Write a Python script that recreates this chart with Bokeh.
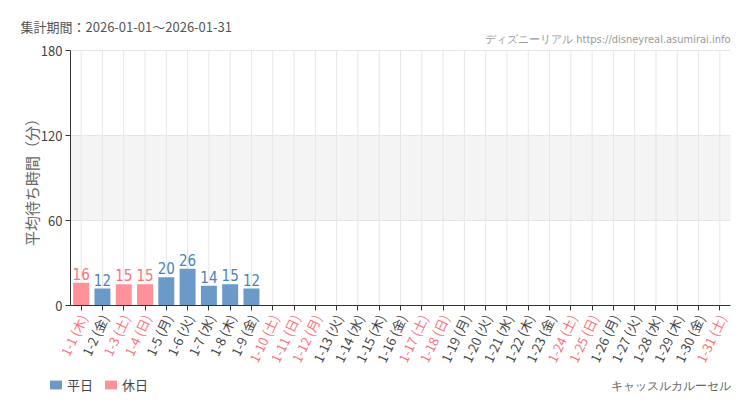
import math
from bokeh.plotting import figure
from bokeh.models import (ColumnDataSource, BoxAnnotation, Label, LabelSet, Legend, LegendItem,
                          FixedTicker, Range1d, LinearAxis)
from bokeh.core.properties import value
from bokeh.embed import file_html
from bokeh.resources import INLINE

# ---- data ----
days = [f"1-{d}" for d in range(1, 32)]
weekdays = ["木", "金", "土", "日", "月", "火", "水"]
dow = [weekdays[(d - 1) % 7] for d in range(1, 32)]
holiday_days = [1, 3, 4, 10, 11, 12, 17, 18, 24, 25, 31]
waits = [16, 12, 15, 15, 20, 26, 14, 15, 12]          # days 1..9 (no data after)
tick_labels = [f"{d} ({w})" for d, w in zip(days, dow)]
period_text = "集計期間：2026-01-01～2026-01-31"
site_text = "ディズニーリアル https://disneyreal.asumirai.info"
attraction = "キャッスルカルーセル"
y_title = "平均待ち時間（分）"
y_ticks = [0, 60, 120, 180]
y_max = 180

BLUE = "#6b9ac8"
PINK = "#ff9298"
BLUE_T = "#4d82b8"
PINK_T = "#f9737d"
JP = "Noto Sans CJK JP"
NARROW = "DejaVu Sans Condensed"

W, H = 742, 402
PL, PR, PT, PB = 70, 12, 50, 97           # plot-area margins inside the canvas
n = len(days)
px_x = (W - PL - PR) / n
px_y = (H - PT - PB) / y_max

p = figure(width=W, height=H, output_backend="svg", toolbar_location=None,
           x_range=Range1d(-0.5 - PL / px_x, n - 0.5 + PR / px_x),
           y_range=Range1d(-PB / px_y, y_max + PT / px_y),
           min_border=0, x_axis_location=None, y_axis_location=None)
p.outline_line_color = None
p.background_fill_color = "white"
p.border_fill_color = "white"
p.xgrid.visible = False
p.ygrid.visible = False

idx = list(range(n))
is_hol = [int(d.split("-")[1]) in holiday_days for d in days]

# band
p.add_layout(BoxAnnotation(left=-0.5, right=n - 0.5, bottom=60, top=120,
                           fill_color="#f4f4f4", fill_alpha=1.0, line_color=None, level="underlay"))
# grid lines
p.segment(x0=idx, x1=idx, y0=[0] * n, y1=[y_max] * n, line_color="#e6e6e6", line_width=1)
gy = [t for t in y_ticks if t > 0]
p.segment(x0=[-0.5] * len(gy), x1=[n - 0.5] * len(gy), y0=gy, y1=gy, line_color="#e6e6e6", line_width=1)

src_w = ColumnDataSource(dict(x=[i for i, h in zip(idx, is_hol) if i < len(waits) and not h],
                              y=[waits[i] for i, h in zip(idx, is_hol) if i < len(waits) and not h]))
src_w.data["t"] = [str(v) for v in src_w.data["y"]]
src_h = ColumnDataSource(dict(x=[i for i, h in zip(idx, is_hol) if i < len(waits) and h],
                              y=[waits[i] for i, h in zip(idx, is_hol) if i < len(waits) and h]))
src_h.data["t"] = [str(v) for v in src_h.data["y"]]
rw = p.vbar(x="x", top="y", width=0.75, source=src_w, fill_color=BLUE, line_color=None)
rh = p.vbar(x="x", top="y", width=0.75, source=src_h, fill_color=PINK, line_color=None)
p.text(x="x", y="y", text="t", source=src_w, text_align="center", text_baseline="bottom",
       y_offset=-3, text_color=BLUE_T, text_font=value(NARROW), text_font_size="15px")
p.text(x="x", y="y", text="t", source=src_h, text_align="center", text_baseline="bottom",
       y_offset=-3, text_color=PINK_T, text_font=value(NARROW), text_font_size="15px")

# axes (fixed inside the frame)
yax = LinearAxis(fixed_location=-0.5, bounds=(0, y_max), ticker=FixedTicker(ticks=y_ticks))
yax.axis_line_color = "#333333"
yax.major_tick_line_color = "#333333"
yax.major_tick_out = 5
yax.major_tick_in = 0
yax.minor_tick_line_color = None
yax.major_label_text_font = JP
yax.major_label_text_font_size = "13px"
yax.major_label_text_color = "#444444"
yax.major_label_standoff = 3
p.add_layout(yax, "left")

xax = LinearAxis(fixed_location=0, bounds=(-0.5, n - 0.5), ticker=FixedTicker(ticks=idx))
xax.axis_line_color = "#333333"
xax.major_tick_line_color = "#333333"
xax.major_tick_out = 5
xax.major_tick_in = 0
xax.minor_tick_line_color = None
xax.major_label_text_alpha = 0
xax.major_label_text_font_size = "1px"
p.add_layout(xax, "below")

# rotated x tick labels with per-label colours
cols = [PINK_T if h else "#444444" for h in is_hol]
lab_src = ColumnDataSource(dict(x=idx, t=tick_labels, c=cols))
lab_src.data["y"] = [0] * n
p.add_layout(LabelSet(x="x", y="y", text="t", source=lab_src, text_color="c",
                      angle=1.13, text_align="right", text_baseline="middle",
                      x_offset=2, y_offset=-10,
                      text_font=value(JP), text_font_size="13px"))

# texts
p.add_layout(Label(x=20, y=H - 26, x_units="screen", y_units="screen", text=period_text,
                   text_font=JP, text_font_size="13px", text_color="#555555",
                   text_baseline="middle"))
p.add_layout(Label(x=W - PR, y=H - 39, x_units="screen", y_units="screen", text=site_text,
                   text_font=NARROW, text_font_size="11px", text_color="#999999",
                   text_align="right", text_baseline="middle"))
p.add_layout(Label(x=31, y=H - 178, x_units="screen", y_units="screen", text=y_title,
                   angle=math.pi / 2,
                   text_font=JP, text_font_size="15px", text_color="#666666",
                   text_align="center", text_baseline="middle"))
p.add_layout(Label(x=W - PR, y=17, x_units="screen", y_units="screen", text=attraction,
                   text_font=NARROW, text_font_size="12px", text_color="#666666",
                   text_align="right", text_baseline="middle"))

legend = Legend(items=[LegendItem(label="平日", renderers=[rw]),
                       LegendItem(label="休日", renderers=[rh])],
                orientation="horizontal", location=(48, 8),
                label_text_font=JP, label_text_font_size="13px", label_text_color="#444444",
                glyph_width=15, glyph_height=11, label_standoff=4, spacing=10, padding=0, margin=0,
                border_line_color=None, background_fill_alpha=0)
p.add_layout(legend, "center")

open("out.html", "w").write(file_html(p, INLINE))
